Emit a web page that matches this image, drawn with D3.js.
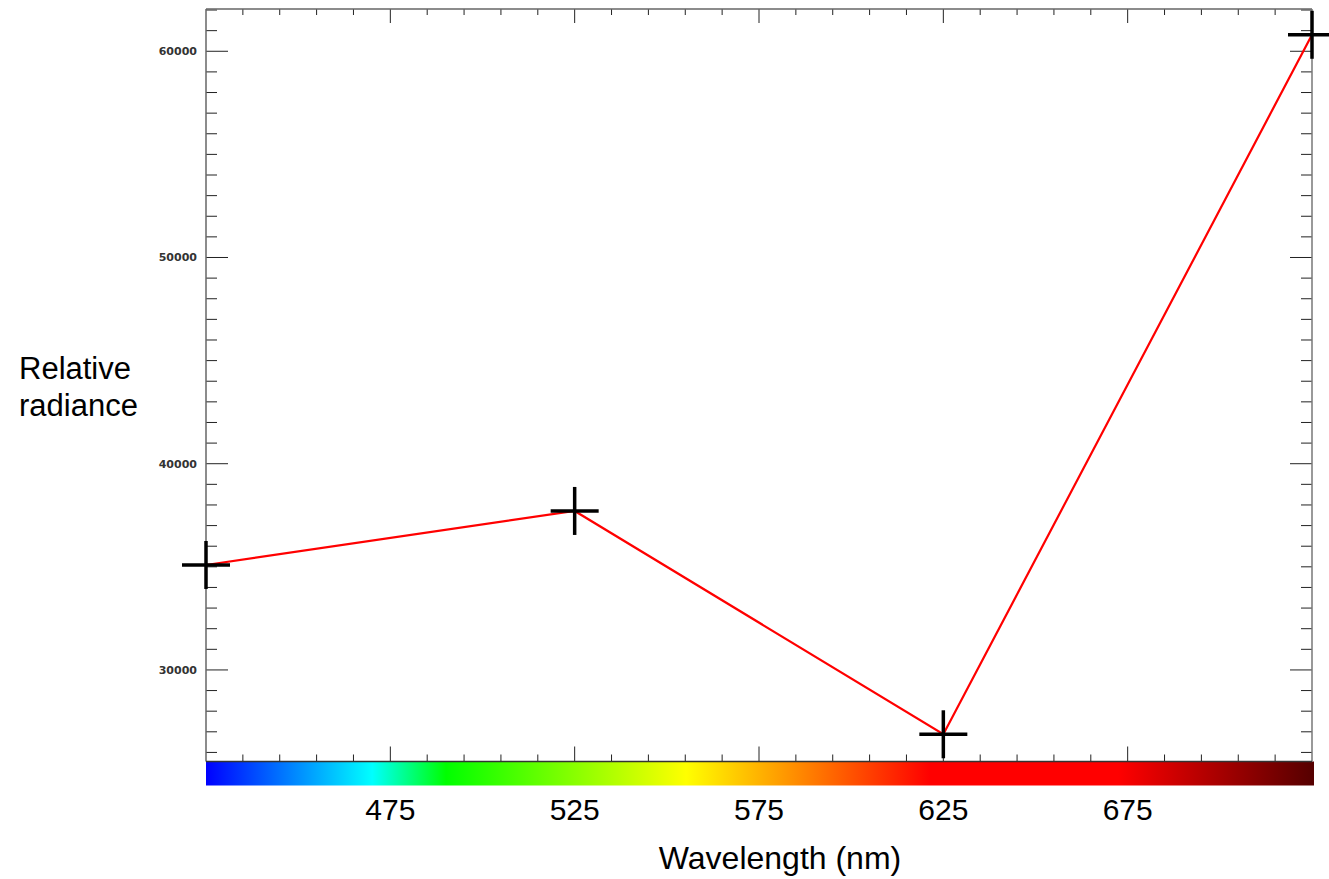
<!DOCTYPE html>
<html>
<head>
<meta charset="utf-8">
<script src="https://cdn.jsdelivr.net/npm/d3@7"></script>
<style>
  html, body { margin: 0; padding: 0; background: #fff; }
  svg { display: block; }
</style>
</head>
<body>
<svg id="chart" width="1329" height="879"></svg>
<script>
// ---- data ----
const wavelengths = [425, 525, 625, 725];
const radiance = [35090, 37710, 26880, 60800];
const xTickLabels = [475, 525, 575, 625, 675];
const yTickLabels = [30000, 40000, 50000, 60000];
const xDomain = [425, 725];
const yDomain = [25560, 62050];
// spectrum colour stops (wavelength, colour)
const spectrumNm = [425, 470, 490, 555, 621, 672, 725];
const spectrumColors = ["#0000ff", "#00ffff", "#00ff00", "#ffff00", "#ff0000", "#ff0000", "#550000"];

(function () {
// ---- layout ----
const pL = 206, pR = 1312, pT = 9, pB = 761.5;
const barH = 24;
const svg = d3.select("#chart");

const x = d3.scaleLinear().domain(xDomain).range([pL, pR]);
const y = d3.scaleLinear().domain(yDomain).range([pB, pT]);

// spectrum gradient
const defs = svg.append("defs");
const grad = defs.append("linearGradient").attr("id", "spec")
  .attr("gradientUnits", "userSpaceOnUse")
  .attr("x1", x(xDomain[0])).attr("x2", x(xDomain[1]) + 2).attr("y1", 0).attr("y2", 0);
spectrumNm.forEach((nm, i) => {
  grad.append("stop")
    .attr("offset", (nm - xDomain[0]) / (xDomain[1] - xDomain[0]))
    .attr("stop-color", spectrumColors[i]);
});
svg.append("rect")
  .attr("x", x(xDomain[0])).attr("y", pB)
  .attr("width", x(xDomain[1]) - x(xDomain[0]) + 2).attr("height", barH)
  .attr("fill", "url(#spec)");

// ticks
const xMinor = d3.range(435, 725, 10);
const yMinor = d3.range(26000, 62001, 1000);
const yMajorSet = new Set(yTickLabels);
const xMajorSet = new Set(xTickLabels);
const tickColor = "#222";

const g = svg.append("g");
yMinor.forEach(v => {
  const len = yMajorSet.has(v) ? 22 : 11;
  g.append("line").attr("x1", pL).attr("x2", pL + len)
    .attr("y1", y(v)).attr("y2", y(v)).attr("stroke", tickColor).attr("stroke-width", 1);
  g.append("line").attr("x1", pR).attr("x2", pR - len)
    .attr("y1", y(v)).attr("y2", y(v)).attr("stroke", tickColor).attr("stroke-width", 1);
});
xMinor.forEach(v => {
  const major = xMajorSet.has(v);
  g.append("line").attr("x1", x(v)).attr("x2", x(v))
    .attr("y1", pT).attr("y2", pT + (major ? 14 : 6)).attr("stroke", tickColor).attr("stroke-width", 1);
  g.append("line").attr("x1", x(v)).attr("x2", x(v))
    .attr("y1", pB).attr("y2", pB - (major ? 15 : 7)).attr("stroke", tickColor).attr("stroke-width", 1);
});

// frame
svg.append("line").attr("x1", pL).attr("x2", pR).attr("y1", pT).attr("y2", pT)
  .attr("stroke", "#666").attr("stroke-width", 1.5);
svg.append("line").attr("x1", pL).attr("x2", pL).attr("y1", pT).attr("y2", pB)
  .attr("stroke", "#666").attr("stroke-width", 1.5);
svg.append("line").attr("x1", pR).attr("x2", pR).attr("y1", pT).attr("y2", pB)
  .attr("stroke", "#777").attr("stroke-width", 1.5);
svg.append("line").attr("x1", pL).attr("x2", pR).attr("y1", pB).attr("y2", pB)
  .attr("stroke", "#333").attr("stroke-width", 1.5);

// y tick labels
svg.append("g").selectAll("text").data(yTickLabels).join("text")
  .attr("x", 197).attr("y", d => y(d)).attr("dy", "0.36em")
  .attr("text-anchor", "end")
  .attr("font-family", "DejaVu Sans").attr("font-weight", "bold")
  .attr("font-size", 11).attr("fill", "#333")
  .text(d => d);

// x tick labels
svg.append("g").selectAll("text").data(xTickLabels).join("text")
  .attr("x", d => x(d)).attr("y", 820)
  .attr("text-anchor", "middle")
  .attr("font-family", "Liberation Sans, Arial, sans-serif")
  .attr("font-size", 30).attr("fill", "#000")
  .text(d => d);

// axis titles
svg.append("text").attr("x", 780).attr("y", 869).attr("text-anchor", "middle")
  .attr("font-family", "Liberation Sans, Arial, sans-serif").attr("font-size", 32)
  .text("Wavelength (nm)");
const yt = svg.append("text").attr("font-family", "Liberation Sans, Arial, sans-serif").attr("font-size", 31);
yt.append("tspan").attr("x", 19).attr("y", 379).text("Relative");
yt.append("tspan").attr("x", 19).attr("y", 416).text("radiance");

// line
const pts = wavelengths.map((w, i) => [w, radiance[i]]);
svg.append("path").datum(pts)
  .attr("d", d3.line().x(d => x(d[0])).y(d => y(d[1])))
  .attr("fill", "none").attr("stroke", "#ff0000").attr("stroke-width", 2.2);

// cross markers
const arm = 24;
const mk = svg.append("g").selectAll("g").data(pts).join("g")
  .attr("transform", d => `translate(${x(d[0])},${y(d[1])})`);
mk.append("line").attr("x1", -arm).attr("x2", arm).attr("y1", 0).attr("y2", 0)
  .attr("stroke", "#000").attr("stroke-width", 3.5);
mk.append("line").attr("x1", 0).attr("x2", 0).attr("y1", -arm).attr("y2", arm)
  .attr("stroke", "#000").attr("stroke-width", 3.5);
})();
</script>
</body>
</html>
